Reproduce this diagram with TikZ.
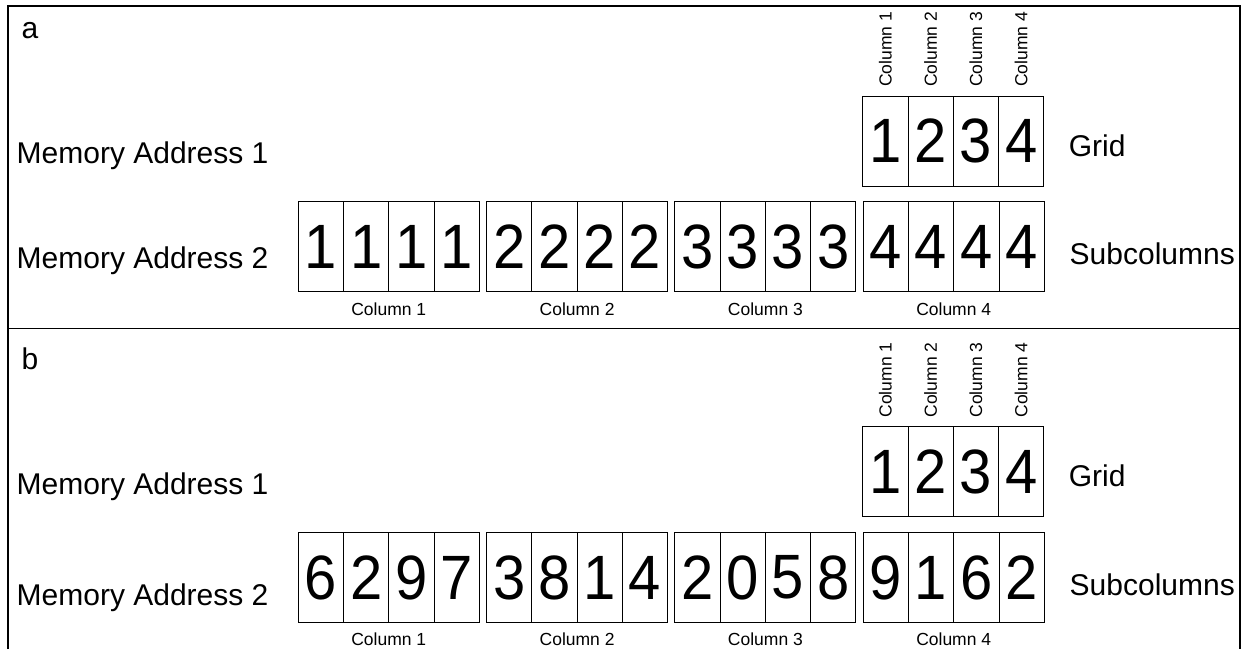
\documentclass[tikz,border=0pt]{standalone}
\usepackage{fontspec}
\setmainfont{Liberation Sans}
\newcommand\dig[1]{\scalebox{1}[1.08]{#1}}
\begin{document}
\begin{tikzpicture}[x=1pt,y=-1pt,
  cell/.style={draw, line width=0.9pt, minimum width=45.25pt, minimum height=90pt,
    inner sep=0pt, outer sep=0pt, anchor=north west, font=\fontsize{58}{58}\selectfont},
  lab/.style={inner sep=0pt, font=\fontsize{17.5}{17.5}\selectfont},
  big/.style={inner sep=0pt, anchor=base west, font=\fontsize{30}{30}\selectfont},
  frame/.style={line width=1.1pt}]
\useasboundingbox (0,0) rectangle (1243,649);
% frame
\draw[frame] (8,649) -- (8,6) -- (1240,6) -- (1240,649);
\draw[frame] (8,328.3) -- (1240,328.3);

% ---------- panel a ----------
\node[big] (a-lab) at (21.5,38.3) {a};
\node[big] (a-m1) at (16.5,163.3) {Memory Address 1};
\node[big] (a-m2) at (16.5,268.3) {Memory Address 2};
\node[big] (a-grid) at (1068.6,156.7) {Grid};
\node[big] (a-sub) at (1069.5,264) {Subcolumns};
\foreach \i in {1,...,4} {
  \node[cell] (a-g\i) at ({862.7+45.3*(\i-1)},96) {\dig{\i}};
  \node[lab, rotate=90, anchor=west] (a-gl\i) at ([yshift=9pt]a-g\i.north) {Column \i};
}
\foreach \g/\list in {1/{1,1,1,1},2/{2,2,2,2},3/{3,3,3,3},4/{4,4,4,4}} {
  \foreach \d [count=\i] in \list {
    \node[cell] (a-s\g-\i) at ({298.3+188.3*(\g-1)+45.25*(\i-1)},201.5) {\dig{\d}};
  }
  \node[lab, anchor=base] (a-c\g) at ({298.3+188.3*(\g-1)+90.5},315) {Column \g};
}

% ---------- panel b ----------
\node[big] (b-lab) at (21.5,369) {b};
\node[big] (b-m1) at (16.5,494) {Memory Address 1};
\node[big] (b-m2) at (16.5,605) {Memory Address 2};
\node[big] (b-grid) at (1068.6,486) {Grid};
\node[big] (b-sub) at (1069.5,595) {Subcolumns};
\foreach \i in {1,...,4} {
  \node[cell] (b-g\i) at ({862.7+45.3*(\i-1)},426.7) {\dig{\i}};
  \node[lab, rotate=90, anchor=west] (b-gl\i) at ([yshift=9pt]b-g\i.north) {Column \i};
}
\foreach \g/\list in {1/{6,2,9,7},2/{3,8,1,4},3/{2,0,5,8},4/{9,1,6,2}} {
  \foreach \d [count=\i] in \list {
    \node[cell] (b-s\g-\i) at ({298.3+188.3*(\g-1)+45.25*(\i-1)},532.5) {\dig{\d}};
  }
  \node[lab, anchor=base] (b-c\g) at ({298.3+188.3*(\g-1)+90.5},645) {Column \g};
}
\end{tikzpicture}
\end{document}
